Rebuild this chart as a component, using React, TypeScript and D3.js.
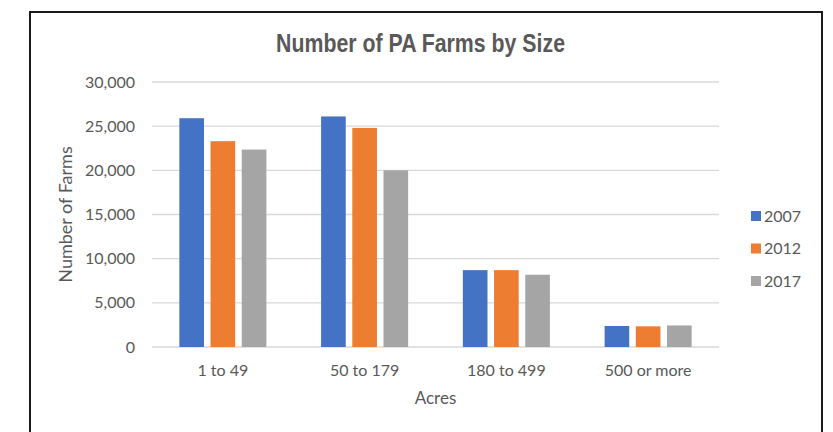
import React from 'react';
import * as d3 from 'd3';

const categories = ['1 to 49', '50 to 179', '180 to 499', '500 or more'];
const years = ['2007', '2012', '2017'];
const farms2007 = [25900, 26100, 8700, 2380];
const farms2012 = [23300, 24800, 8700, 2340];
const farms2017 = [22350, 20000, 8180, 2440];
const yTicks = [0, 5000, 10000, 15000, 20000, 25000, 30000];
const colors = ['#4472C4', '#ED7D31', '#A5A5A5'];

const W = 833;
const H = 432;
const plot = { left: 152, right: 719, top: 82, bottom: 347 };
const textColor = '#595959';
const font = "Lato, 'Liberation Sans', sans-serif";

export default function App() {
  const series = [farms2007, farms2012, farms2017];

  const x0 = d3.scaleBand<string>()
    .domain(categories)
    .range([plot.left, plot.right])
    .paddingInner(0.386)
    .paddingOuter(0.193);

  const x1 = d3.scaleBand<string>()
    .domain(years)
    .range([0, x0.bandwidth()])
    .paddingInner(0.21);

  const y = d3.scaleLinear().domain([0, 30000]).range([plot.bottom, plot.top]);
  const fmt = d3.format(',');

  return (
    <div style={{ position: 'fixed', left: 0, top: 0 }}>
      <svg width={W} height={H} style={{ display: 'block', background: '#fff' }}>
        <rect x={30} y={12} width={792} height={440} fill="#fff" stroke="#1a1a1a" strokeWidth={2} />

        {/* Title, narrowed to look like Arial Narrow */}
        <text
          transform={`translate(${(plot.left + plot.right) / 2 - 15},52) scale(0.82,1)`}
          textAnchor="middle"
          fontFamily="'Liberation Sans', Arial, sans-serif"
          fontWeight="bold"
          fontSize={26}
          fill={textColor}
        >
          Number of PA Farms by Size
        </text>

        {/* Grid + y ticks */}
        {yTicks.map(t => (
          <g key={t}>
            <line x1={plot.left} x2={plot.right} y1={y(t)} y2={y(t)} stroke="#d9d9d9" strokeWidth={1.4} />
            <text x={135} y={y(t)} dy="0.35em" textAnchor="end" fontFamily={font} fontSize={16} fill={textColor}>
              {fmt(t)}
            </text>
          </g>
        ))}

        {/* Bars */}
        {categories.map((c, i) => (
          <g key={c} transform={`translate(${x0(c)},0)`}>
            {years.map((yr, j) => (
              <rect
                key={yr}
                x={x1(yr)}
                y={y(series[j][i])}
                width={x1.bandwidth()}
                height={y(0) - y(series[j][i])}
                fill={colors[j]}
              />
            ))}
            <text
              x={x0.bandwidth() / 2}
              y={376}
              textAnchor="middle"
              fontFamily={font}
              fontSize={16}
              fill={textColor}
            >
              {c}
            </text>
          </g>
        ))}

        {/* Axis titles */}
        <text x={(plot.left + plot.right) / 2} y={404} textAnchor="middle" fontFamily={font} fontSize={17} fill={textColor}>
          Acres
        </text>
        <text
          transform={`translate(72,${(plot.top + plot.bottom) / 2}) rotate(-90)`}
          textAnchor="middle"
          fontFamily={font}
          fontSize={18}
          fill={textColor}
        >
          Number of Farms
        </text>

        {/* Legend */}
        {years.map((yr, j) => (
          <g key={yr} transform={`translate(751,${216 + j * 32.5})`}>
            <rect x={0} y={-5} width={10} height={10} fill={colors[j]} />
            <text x={13} y={0} dy="0.35em" fontFamily={font} fontSize={16} fill={textColor}>
              {yr}
            </text>
          </g>
        ))}
      </svg>
    </div>
  );
}
